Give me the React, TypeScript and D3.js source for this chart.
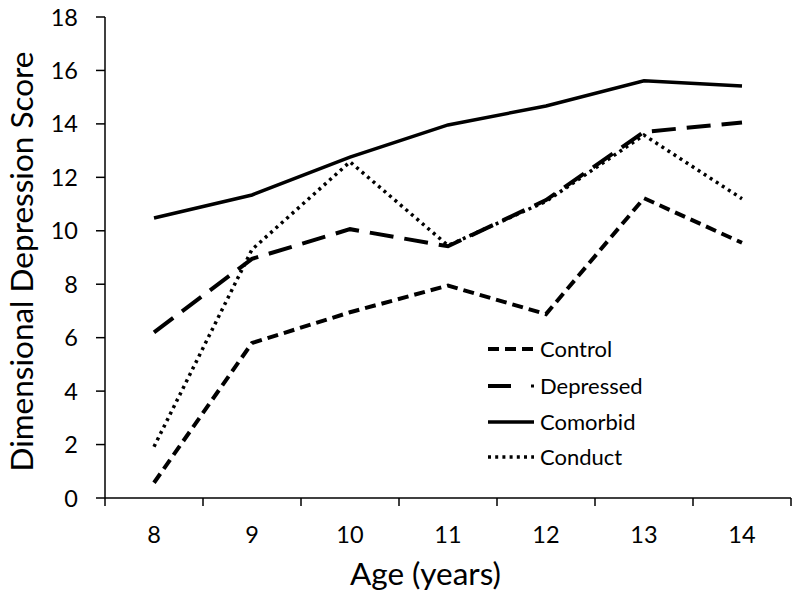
import React from "react";
import * as d3 from "d3";

const ages = ["8", "9", "10", "11", "12", "13", "14"];
const control = [0.57, 5.8, 6.95, 7.95, 6.88, 11.22, 9.55];
const depressed = [6.2, 8.95, 10.06, 9.42, 11.15, 13.7, 14.05];
const comorbid = [10.48, 11.34, 12.76, 13.96, 14.67, 15.61, 15.42];
const conduct = [1.92, 9.3, 12.58, 9.45, 11.1, 13.58, 11.2];
const yTicks = [0, 2, 4, 6, 8, 10, 12, 14, 16, 18];

const seriesNames = ["Control", "Depressed", "Comorbid", "Conduct"];
const seriesValues = [control, depressed, comorbid, conduct];
const styles = [
  { dash: "11,6", width: 4 },
  { dash: "24,11", width: 4 },
  { dash: "", width: 3.5 },
  { dash: "3,4.2", width: 3.5 },
];

const FONT = "Lato, 'Open Sans', sans-serif";

export default function App() {
  const width = 800;
  const height = 599;
  const left = 105;
  const right = 791;
  const top = 17;
  const bottom = 498;

  const x = d3.scaleBand<string>().domain(ages).range([left, right]);
  const y = d3.scaleLinear().domain([0, 18]).range([bottom, top]);
  const line = d3
    .line<number>()
    .x((_, i) => (x(ages[i]) as number) + x.bandwidth() / 2)
    .y((d) => y(d));

  const tickXs = [...ages.map((a) => x(a) as number), right];
  const legendX = 488;
  const legendYs = [349, 386, 422, 457];

  return (
    <svg width={width} height={height} style={{ position: "absolute", left: 0, top: 0 }}>
      <rect x={0} y={0} width={width} height={height} fill="#fff" />
      {/* Y axis */}
      <line x1={left} x2={left} y1={top} y2={bottom} stroke="#000" strokeWidth={1.5} />
      {yTicks.map((t) => (
        <g key={t}>
          <line x1={left - 9} x2={left} y1={y(t)} y2={y(t)} stroke="#000" strokeWidth={1.5} />
          <text
            x={78}
            y={y(t) + 8.5}
            textAnchor="end"
            fontFamily={FONT}
            fontSize={23.5}
            fill="#000"
          >
            {t}
          </text>
        </g>
      ))}
      {/* X axis */}
      <line x1={left} x2={right} y1={bottom} y2={bottom} stroke="#000" strokeWidth={1.5} />
      {tickXs.map((tx, i) => (
        <line key={i} x1={tx} x2={tx} y1={bottom} y2={bottom + 8} stroke="#000" strokeWidth={1.5} />
      ))}
      {ages.map((a) => (
        <text
          key={a}
          x={(x(a) as number) + x.bandwidth() / 2}
          y={543}
          textAnchor="middle"
          fontFamily={FONT}
          fontSize={23.5}
          fill="#000"
        >
          {a}
        </text>
      ))}
      <text x={425.5} y={585} textAnchor="middle" fontFamily={FONT} fontSize={31.5} fill="#000">
        Age (years)
      </text>
      <text
        transform={`translate(33,${(top + bottom) / 2 + 4}) rotate(-90)`}
        textAnchor="middle"
        fontFamily={FONT}
        fontSize={31.5}
        fill="#000"
      >
        Dimensional Depression Score
      </text>
      {/* Lines */}
      {seriesValues.map((vals, i) => (
        <path
          key={i}
          d={line(vals) as string}
          fill="none"
          stroke="#000"
          strokeWidth={styles[i].width}
          strokeDasharray={styles[i].dash || undefined}
          strokeLinejoin="miter"
        />
      ))}
      {/* Legend */}
      {seriesNames.map((n, i) => (
        <g key={n}>
          {i === 1 ? (
            <>
              <line x1={legendX} x2={legendX + 23} y1={legendYs[i]} y2={legendYs[i]} stroke="#000" strokeWidth={4} />
              <line x1={legendX + 43} x2={legendX + 46} y1={legendYs[i]} y2={legendYs[i]} stroke="#000" strokeWidth={3} />
            </>
          ) : (
            <line
              x1={legendX}
              x2={legendX + 46}
              y1={legendYs[i]}
              y2={legendYs[i]}
              stroke="#000"
              strokeWidth={styles[i].width}
              strokeDasharray={styles[i].dash || undefined}
            />
          )}
          <text
            x={legendX + 52}
            y={legendYs[i] + 8}
            fontFamily={FONT}
            fontSize={22}
            fill="#000"
          >
            {n}
          </text>
        </g>
      ))}
    </svg>
  );
}
